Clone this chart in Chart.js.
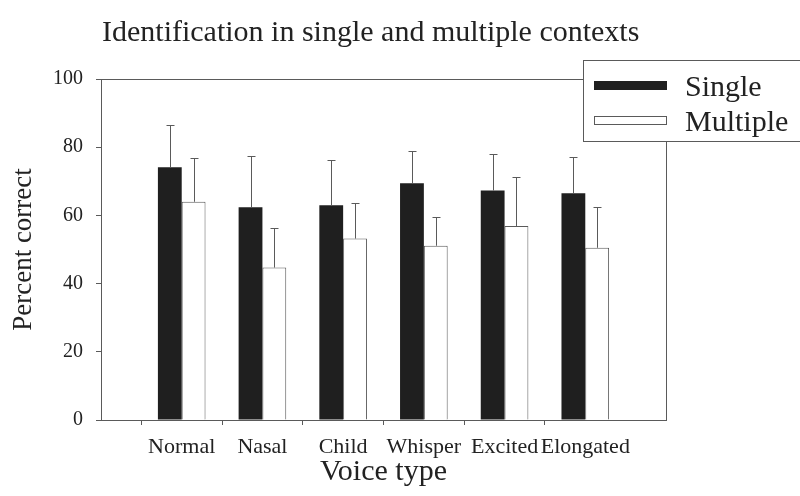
<!DOCTYPE html>
<html>
<head>
<meta charset="utf-8">
<script src="https://cdn.jsdelivr.net/npm/chart.js@4.4.1/dist/chart.umd.min.js"></script>
<style>
    html, body { margin: 0; padding: 0; background: #fff; }
    #wrap { width: 800px; height: 496px; position: relative; }
</style>
</head>
<body>
<div id="wrap"><canvas id="barChart"></canvas></div>
<script>
const voiceTypes = ['Normal', 'Nasal', 'Child', 'Whisper', 'Excited', 'Elongated'];
const singleMeans = [74.1, 62.4, 63.0, 69.4, 67.3, 66.5];
const singleErrors = [12.3, 15.0, 13.1, 9.6, 10.8, 10.7];
const multipleMeans = [64.0, 44.7, 53.2, 51.1, 56.9, 50.5];
const multipleErrors = [12.9, 11.7, 10.3, 8.5, 14.3, 11.9];
const yTicks = [0, 20, 40, 60, 80, 100];

const serif = "'Liberation Serif', 'Times New Roman', serif";
const lineGrey = '#5a5a5a';
const textColor = '#222';

// empty slot on each side, the original plot leaves a free category at both ends
const labels = [''].concat(voiceTypes, ['']);
const pad = arr => [null].concat(arr, [null]);

const errorBars = {
    id: 'errorBars',
    afterDatasetsDraw(chart) {
        const ctx = chart.ctx;
        const y = chart.scales.y;
        ctx.save();
        ctx.strokeStyle = lineGrey;
        ctx.lineWidth = 1;
        chart.data.datasets.forEach((ds, i) => {
            const meta = chart.getDatasetMeta(i);
            meta.data.forEach((bar, j) => {
                const v = ds.data[j];
                const err = ds.errors[j];
                if (v == null || err == null) return;
                const x = Math.round(bar.x) + 0.5;
                const yTop = Math.round(y.getPixelForValue(v + err)) + 0.5;
                ctx.beginPath();
                ctx.moveTo(x, bar.y);
                ctx.lineTo(x, yTop);
                ctx.moveTo(x - 4, yTop);
                ctx.lineTo(x + 4, yTop);
                ctx.stroke();
            });
        });
        ctx.restore();
    }
};

const frameAndLegend = {
    id: 'frameAndLegend',
    afterDraw(chart) {
        const ctx = chart.ctx;
        const a = chart.chartArea;
        ctx.save();
        // top and right sides of the plot frame
        ctx.strokeStyle = lineGrey;
        ctx.lineWidth = 1;
        ctx.beginPath();
        ctx.moveTo(Math.round(a.left) + 0.5, Math.round(a.top) + 0.5);
        ctx.lineTo(Math.round(a.right) + 0.5, Math.round(a.top) + 0.5);
        ctx.lineTo(Math.round(a.right) + 0.5, Math.round(a.bottom) + 0.5);
        ctx.stroke();

        // title
        ctx.fillStyle = textColor;
        ctx.font = '30px ' + serif;
        ctx.textAlign = 'left';
        ctx.textBaseline = 'alphabetic';
        ctx.fillText('Identification in single and multiple contexts', a.left + 1, 41);

        // legend box, sits over the frame corner
        const bx = a.right - 83, by = 60, bw = 240, bh = 81;
        ctx.fillStyle = '#fff';
        ctx.fillRect(bx, by, bw, bh);
        ctx.strokeStyle = lineGrey;
        ctx.strokeRect(bx + 0.5, by + 0.5, bw, bh);
        const ds = chart.data.datasets;
        const rows = [by + 36, by + 71];
        ds.forEach((d, i) => {
            const sy = rows[i] - 15;
            ctx.fillStyle = d.backgroundColor;
            ctx.fillRect(bx + 11, sy, 73, 9);
            if (d.borderWidth) {
                ctx.strokeStyle = d.borderColor;
                ctx.strokeRect(bx + 11.5, sy + 0.5, 72, 8);
            }
            ctx.fillStyle = textColor;
            ctx.font = '30px ' + serif;
            ctx.fillText(d.label, bx + 102, rows[i]);
        });
        ctx.restore();
    }
};

const ctx = document.getElementById('barChart').getContext('2d');
const chart = new Chart(ctx, {
    type: 'bar',
    data: {
        labels: labels,
        datasets: [
            {
                label: 'Single',
                data: pad(singleMeans),
                errors: pad(singleErrors),
                backgroundColor: '#1f1f1f',
                borderColor: '#1f1f1f',
                borderWidth: 0,
                barPercentage: 1,
                categoryPercentage: 0.59,
            },
            {
                label: 'Multiple',
                data: pad(multipleMeans),
                errors: pad(multipleErrors),
                backgroundColor: '#ffffff',
                borderColor: lineGrey,
                borderWidth: 1,
                barPercentage: 1,
                categoryPercentage: 0.59,
            }
        ]
    },
    options: {
        responsive: true,
        maintainAspectRatio: false,
        animation: false,
        layout: {
            padding: { top: 79, right: 134, left: 0, bottom: 0 }
        },
        plugins: {
            legend: { display: false },
            title: { display: false },
            tooltip: { enabled: false }
        },
        scales: {
            x: {
                type: 'category',
                offset: false,
                afterFit: scale => { scale.height = 76; },
                grid: {
                    drawOnChartArea: false,
                    drawTicks: true,
                    tickLength: 5,
                    tickColor: c => (c.tick && c.tick.label) ? lineGrey : 'rgba(0,0,0,0)',
                },
                border: { color: lineGrey, width: 1 },
                ticks: {
                    color: textColor,
                    font: { family: serif, size: 22 },
                    padding: 9,
                    maxRotation: 0,
                    autoSkip: false,
                },
                title: {
                    display: true,
                    text: 'Voice type',
                    color: textColor,
                    font: { family: serif, size: 30 },
                    padding: { top: 0, bottom: 6 }
                }
            },
            y: {
                min: 0,
                max: 100,
                afterFit: scale => { scale.width = 101; },
                afterBuildTicks: scale => { scale.ticks = yTicks.map(v => ({ value: v })); },
                grid: {
                    drawOnChartArea: false,
                    drawTicks: true,
                    tickLength: 5,
                    color: lineGrey,
                },
                border: { color: lineGrey, width: 1 },
                ticks: {
                    color: textColor,
                    font: { family: serif, size: 20 },
                    padding: 13,
                },
                title: {
                    display: true,
                    text: 'Percent correct',
                    color: textColor,
                    font: { family: serif, size: 27 },
                    padding: { top: 8, bottom: 0 }
                }
            }
        }
    },
    plugins: [errorBars, frameAndLegend]
});
</script>
</body>
</html>
